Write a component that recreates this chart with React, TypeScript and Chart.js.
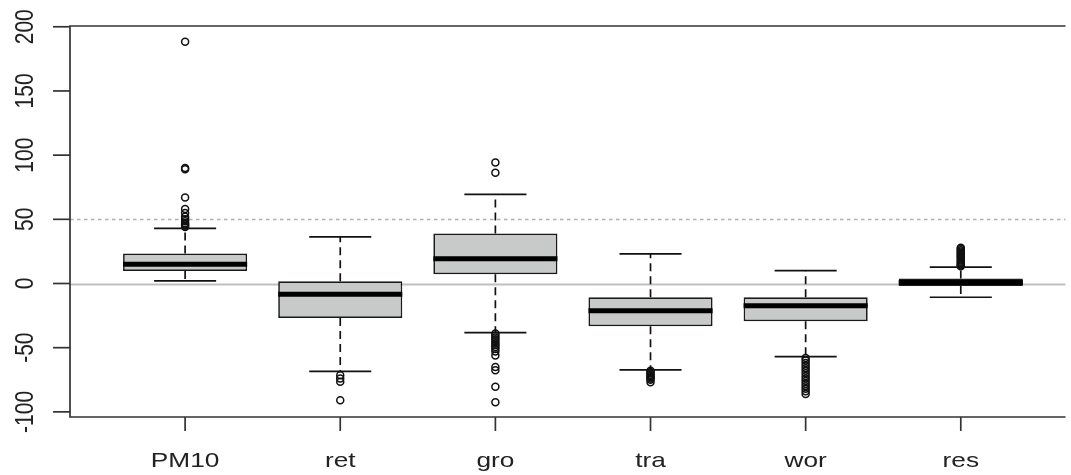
import React, { useEffect, useRef } from "react";
import { Chart, registerables } from "chart.js";

Chart.register(...registerables);

const categories = ["PM10", "ret", "gro", "tra", "wor", "res"];
const q1 = [9.8, -26.8, 7.2, -33.3, -29.4, -1.9];
const median = [15, -8.3, 19.2, -21.3, -17.4, 0.8];
const q3 = [23.4, 1.8, 39, -10.7, -10.7, 3.9];
const whiskerLow = [2, -68.4, -38.2, -67.3, -56.9, -10.7];
const whiskerHigh = [42.9, 36.3, 69.4, 23.1, 10.1, 12.7];

const outliersPM10 = [188.3, 90, 89, 67, 58, 55, 52, 50, 48.5, 47, 46, 45, 44];
const outliersRet = [-71.5, -74, -76.5, -91];
const outliersGro = [94.3, 86.2, -39, -40.5, -42, -43.5, -45, -46.5, -48, -49.5, -51, -53, -56, -65, -67.5, -80.5, -92.5];
const outliersTra = [-68, -69, -70, -71, -72, -73, -74, -75, -77];
const outliersWor = [-58, -60, -62, -64, -66, -68, -70, -72, -74, -76, -78, -80, -82, -84, -86];
const outliersRes = [13.5, 14, 15, 16, 17, 18, 19, 20, 21, 22, 23, 24, 25, 26, 27, 27.8];
const outliers = [outliersPM10, outliersRet, outliersGro, outliersTra, outliersWor, outliersRes];

const yTicks = [-100, -50, 0, 50, 100, 150, 200];
const refSolid = 0;
const refDashed = 50;

const Y_MIN = -104;
const Y_MAX = 200.6;
const X_MIN = 0.258;
const X_MAX = 6.675;

const BOX_HALF = 0.4;
const CAP_HALF = 0.2;
const FONT = '21px "Liberation Sans", Arial, sans-serif';
const STRETCH = 1.25;

const gap = (x: number) => ({ x, y: null as any });

function buildMedianSegments() {
  const pts: any[] = [];
  median.forEach((m, i) => {
    const c = i + 1;
    pts.push({ x: c - BOX_HALF, y: m }, { x: c + BOX_HALF, y: m }, gap(c + 0.5));
  });
  return pts;
}
function buildWhiskers() {
  const pts: any[] = [];
  categories.forEach((_, i) => {
    const c = i + 1;
    pts.push({ x: c, y: q3[i] }, { x: c, y: whiskerHigh[i] }, gap(c));
    pts.push({ x: c, y: q1[i] }, { x: c, y: whiskerLow[i] }, gap(c));
  });
  return pts;
}
function buildCaps() {
  const pts: any[] = [];
  categories.forEach((_, i) => {
    const c = i + 1;
    pts.push({ x: c - CAP_HALF, y: whiskerHigh[i] }, { x: c + CAP_HALF, y: whiskerHigh[i] }, gap(c));
    pts.push({ x: c - CAP_HALF, y: whiskerLow[i] }, { x: c + CAP_HALF, y: whiskerLow[i] }, gap(c));
  });
  return pts;
}
function buildOutliers() {
  const pts: any[] = [];
  outliers.forEach((arr, i) => arr.forEach((v) => pts.push({ x: i + 1, y: v })));
  return pts;
}

const rPlotPlugin = {
  id: "rPlot",
  beforeDatasetsDraw(chart: any) {
    const { ctx, chartArea, scales } = chart;
    const y = scales.y;
    ctx.save();
    ctx.lineWidth = 2;
    ctx.strokeStyle = "#c0c0c0";
    const y0 = Math.round(y.getPixelForValue(refSolid)) + 0.5;
    ctx.beginPath();
    ctx.moveTo(chartArea.left, y0);
    ctx.lineTo(chartArea.right, y0);
    ctx.stroke();
    ctx.lineWidth = 1.3;
    ctx.strokeStyle = "#b0b0b0";
    ctx.setLineDash([3.5, 3.5]);
    const y50 = Math.round(y.getPixelForValue(refDashed)) + 0.5;
    ctx.beginPath();
    ctx.moveTo(chartArea.left, y50);
    ctx.lineTo(chartArea.right, y50);
    ctx.stroke();
    ctx.restore();
  },
  afterDraw(chart: any) {
    const { ctx, chartArea, scales } = chart;
    const x = scales.x;
    const y = scales.y;
    ctx.save();
    ctx.strokeStyle = "#333";
    ctx.lineWidth = 1.7;
    ctx.beginPath();
    ctx.moveTo(chartArea.right, chartArea.top);
    ctx.lineTo(chartArea.left, chartArea.top);
    ctx.lineTo(chartArea.left, chartArea.bottom);
    ctx.lineTo(chartArea.right, chartArea.bottom);
    ctx.stroke();
    ctx.fillStyle = "#222";
    ctx.font = FONT;
    yTicks.forEach((t) => {
      const py = y.getPixelForValue(t);
      ctx.beginPath();
      ctx.moveTo(chartArea.left - 17, py);
      ctx.lineTo(chartArea.left, py);
      ctx.stroke();
      ctx.save();
      ctx.translate(33, py);
      ctx.scale(STRETCH, 1);
      ctx.rotate(-Math.PI / 2);
      ctx.textAlign = "center";
      ctx.textBaseline = "alphabetic";
      ctx.fillText(String(t), 0, 0);
      ctx.restore();
    });
    categories.forEach((c, i) => {
      const px = x.getPixelForValue(i + 1);
      ctx.beginPath();
      ctx.moveTo(px, chartArea.bottom);
      ctx.lineTo(px, chartArea.bottom + 14);
      ctx.stroke();
      ctx.save();
      ctx.translate(px, 467);
      ctx.scale(STRETCH, 1);
      ctx.textAlign = "center";
      ctx.textBaseline = "alphabetic";
      ctx.fillText(c, 0, 0);
      ctx.restore();
    });
    ctx.restore();
  },
};

export default function App() {
  const ref = useRef<HTMLCanvasElement | null>(null);
  useEffect(() => {
    document.body.style.margin = "0";
    document.body.style.overflow = "hidden";
    if (!ref.current) return;
    const chart = new Chart(ref.current, {
      type: "bar",
      data: {
        datasets: [
          {
            type: "line",
            data: buildOutliers(),
            showLine: false,
            pointRadius: 3.5,
            pointBorderWidth: 1.5,
            pointBorderColor: "#111",
            pointBackgroundColor: "rgba(0,0,0,0)",
            order: 0,
          } as any,
          {
            type: "line",
            data: buildMedianSegments(),
            borderColor: "#000",
            borderWidth: 5,
            borderCapStyle: "butt",
            pointRadius: 0,
            spanGaps: false,
            order: 1,
          } as any,
          {
            type: "bar",
            data: categories.map((_, i) => ({ x: i + 1, y: [q1[i], q3[i]] })),
            backgroundColor: "#c8c9c9",
            borderColor: "#1a1a1a",
            borderWidth: 1.7,
            borderSkipped: false,
            barPercentage: 0.8,
            categoryPercentage: 1,
            order: 2,
          } as any,
          {
            type: "line",
            data: buildCaps(),
            borderColor: "#111",
            borderWidth: 1.7,
            borderCapStyle: "butt",
            pointRadius: 0,
            spanGaps: false,
            order: 3,
          } as any,
          {
            type: "line",
            data: buildWhiskers(),
            borderColor: "#111",
            borderWidth: 1.7,
            borderDash: [8, 5],
            borderCapStyle: "butt",
            pointRadius: 0,
            spanGaps: false,
            order: 4,
          } as any,
        ],
      },
      options: {
        animation: false,
        responsive: false,
        maintainAspectRatio: false,
        layout: { padding: { left: 70, top: 26, right: 0, bottom: 58 } },
        scales: {
          x: {
            type: "linear",
            min: X_MIN,
            max: X_MAX,
            display: false,
            offset: false,
            grid: { offset: false },
            afterBuildTicks: (s: any) => {
              s.ticks = categories.map((_, i) => ({ value: i + 1 }));
            },
          },
          y: { type: "linear", min: Y_MIN, max: Y_MAX, display: false },
        },
        plugins: { legend: { display: false }, tooltip: { enabled: false } },
      },
      plugins: [rPlotPlugin],
    } as any);
    return () => chart.destroy();
  }, []);
  return (
    <div style={{ width: 1071, height: 475, background: "#fff" }}>
      <canvas ref={ref} width={1071} height={475} style={{ display: "block" }} />
    </div>
  );
}
